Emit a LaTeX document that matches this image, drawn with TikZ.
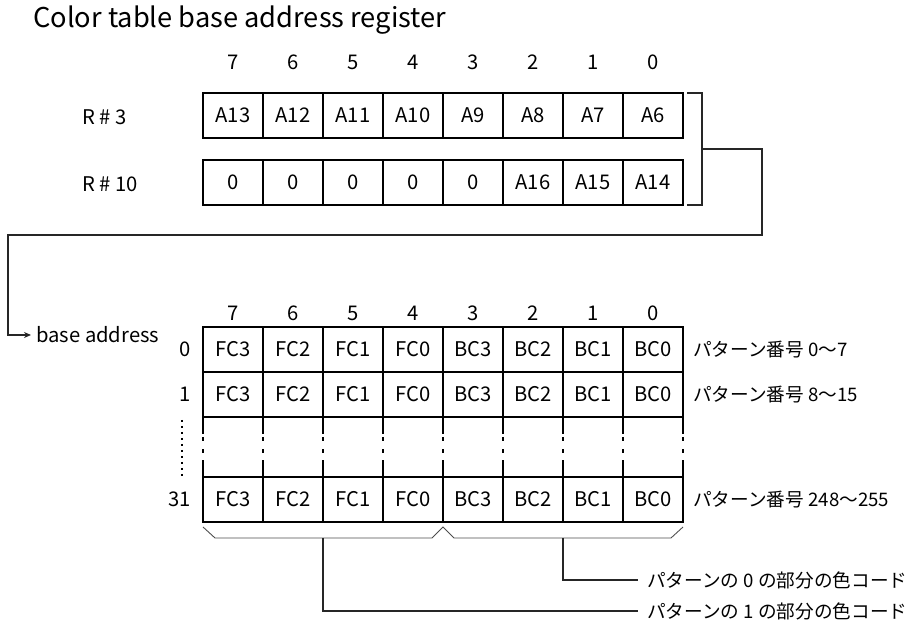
\documentclass[tikz,border=0pt]{standalone}
\usepackage{fontspec}
\setmainfont{Noto Sans CJK JP}
\usetikzlibrary{calc,arrows.meta}

\tikzset{
  cell/.style={draw,line width=0.9pt,minimum width=1.2cm,minimum height=0.9cm,
    inner sep=0pt,outer sep=0pt},
  lab/.style={inner sep=0pt},
  jlab/.style={inner sep=0pt,anchor=west,font=\fontsize{10.6}{12}\selectfont},
  conn/.style={line width=0.6pt,black!85},
  brace/.style={line width=0.5pt,black!70},
}

\begin{document}
\begin{tikzpicture}[font=\fontsize{11.5}{13}\selectfont,>={Stealth[length=1.4mm,width=1.2mm]}]
  \useasboundingbox (0,0) rectangle (18.3,12.42);
  \node[lab,anchor=base west,font=\fontsize{15.5}{18}\selectfont] (title) at (0.66,11.86)
    {Color table base address register};
  % registers R#3 / R#10
  \foreach \b [count=\i from 0] in {7,6,5,4,3,2,1,0}
    \node[lab] (rb\i) at (4.66+1.2*\i,11.18) {\b};
  \foreach \t [count=\i from 0] in {A13,A12,A11,A10,A9,A8,A7,A6}
    \node[cell] (r3-\i) at (4.66+1.2*\i,10.11) {\t};
  \foreach \t [count=\i from 0] in {0,0,0,0,0,A16,A15,A14}
    \node[cell] (r10-\i) at (4.66+1.2*\i,8.77) {\t};
  \node[lab,anchor=west] (r3) at (1.64,10.08) {R \# 3};
  \node[lab,anchor=west] (r10) at (1.64,8.74) {R \# 10};
  \draw[conn] ([xshift=0.8mm]r3-7.north east) -| ([xshift=3.8mm]r10-7.south east)
    -- ([xshift=0.8mm]r10-7.south east);
  \coordinate (brk) at ([xshift=3.8mm]$(r3-7.north east)!0.5!(r10-7.south east)$);
  % base address
  \node[lab,anchor=west,inner xsep=1mm] (base) at (0.62,5.72) {base address};
  \draw[conn,->] (brk) -- ++(1.2,0) |- (0.16,7.72) |- (base.west);
  % color table
  \foreach \b [count=\i from 0] in {7,6,5,4,3,2,1,0}
    \node[lab] (tb\i) at (4.66+1.2*\i,6.16) {\b};
  \foreach \r/\y in {0/5.43,1/4.53,31/2.43} {
    \foreach \t [count=\i from 0] in {FC3,FC2,FC1,FC0,BC3,BC2,BC1,BC0}
      \node[cell] (t\r-\i) at (4.66+1.2*\i,\y) {\t};
    \node[lab,anchor=east] (n\r) at (3.82,\y) {\r};
  }
  \foreach \i in {0,...,8} {
    \draw[line width=0.9pt] (4.06+1.2*\i,4.08) -- ++(0,-0.34);
    \draw[line width=0.9pt] (4.06+1.2*\i,2.88) -- ++(0,0.34);
    \draw[line width=0.6pt,dash pattern=on 2pt off 5pt] (4.06+1.2*\i,3.68) -- (4.06+1.2*\i,3.22);
  }
  \draw[line width=1.3pt,dash pattern=on 1.3pt off 2.1pt] (3.64,4.02) -- (3.64,2.9);
  \node[jlab] (p0) at (13.86,5.43) {パターン番号 0〜7};
  \node[jlab] (p1) at (13.86,4.53) {パターン番号 8〜15};
  \node[jlab] (p31) at (13.86,2.43) {パターン番号 248〜255};
  % braces
  \draw[brace] (4.06,1.88) -- (4.30,1.66) -- (8.64,1.66) -- (8.86,1.88)
    -- (9.08,1.66) -- (13.42,1.66) -- (13.66,1.88);
  \coordinate (fc) at (6.46,1.66);
  \coordinate (bc) at (11.26,1.66);
  \node[jlab,inner xsep=1.8mm] (col0) at (12.76,0.82) {パターンの 0 の部分の色コード};
  \node[jlab,inner xsep=1.8mm] (col1) at (12.76,0.2) {パターンの 1 の部分の色コード};
  \draw[conn] (bc) |- (col0.west);
  \draw[conn] (fc) |- (col1.west);
\end{tikzpicture}
\end{document}
